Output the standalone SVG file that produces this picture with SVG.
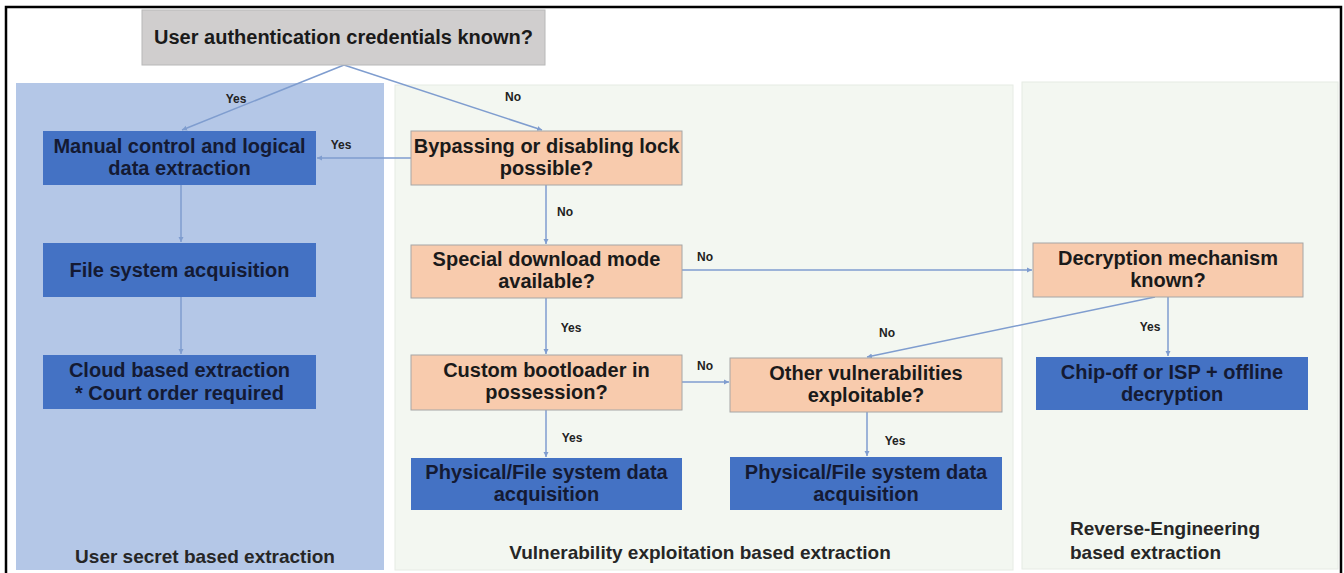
<svg xmlns="http://www.w3.org/2000/svg" width="1344" height="573" viewBox="0 0 1344 573">
  <defs>
    <marker id="arr" markerWidth="6" markerHeight="6" refX="5" refY="3" orient="auto" markerUnits="userSpaceOnUse">
      <path d="M0,0.5 L5,3 L0,5.5 Z" fill="#7f9dcf"/>
    </marker>
    <style>
      text { font-family: "Liberation Sans", Arial, sans-serif; font-weight: bold; }
      .q { fill: #f8cbad; stroke: #a6a6a6; stroke-width: 1; }
      .r { fill: #4472c4; }
      .g { fill: #d0cece; stroke: #b8b8b8; stroke-width: 1; }
      .bt { font-size: 20px; fill: #1a1a1a; text-anchor: middle; }
      .rt { font-size: 20px; fill: #141a33; text-anchor: middle; }
      .lab { font-size: 12px; fill: #222; text-anchor: middle; }
      .pl { font-size: 19px; fill: #262626; }
      .c { stroke: #7f9dcf; stroke-width: 1.5; fill: none; marker-end: url(#arr); }
      .pane { fill: #f3f7f1; stroke: #e6ebe4; stroke-width: 1; }
    </style>
  </defs>

  <rect x="0" y="0" width="1344" height="573" fill="#ffffff"/>
  <rect x="6" y="7" width="1335" height="590" fill="#ffffff" stroke="#000000" stroke-width="2.5"/>

  <g id="panels">
    <rect id="panel-user-secret" x="16" y="83" width="368" height="487" fill="#b4c7e7"/>
    <rect id="panel-vulnerability" class="pane" x="395" y="85" width="618" height="485"/>
    <rect id="panel-reverse" class="pane" x="1022" y="82" width="316" height="487"/>
    <text class="pl" x="205" y="563" text-anchor="middle">User secret based extraction</text>
    <text class="pl" x="700" y="559" text-anchor="middle">Vulnerability exploitation based extraction</text>
    <text class="pl" x="1070" y="535">Reverse-Engineering</text>
    <text class="pl" x="1070" y="559">based extraction</text>
  </g>

  <g id="connectors">
    <line class="c" x1="344" y1="65" x2="182" y2="130"/>
    <line class="c" x1="344" y1="65" x2="542" y2="130"/>
    <line class="c" x1="411" y1="158" x2="317" y2="158"/>
    <line class="c" x1="181" y1="185" x2="181" y2="242"/>
    <line class="c" x1="181" y1="297" x2="181" y2="354"/>
    <line class="c" x1="546" y1="185" x2="546" y2="244"/>
    <line class="c" x1="546" y1="298" x2="546" y2="354"/>
    <line class="c" x1="546" y1="410" x2="546" y2="457"/>
    <line class="c" x1="682" y1="270" x2="1032" y2="270"/>
    <line class="c" x1="682" y1="382" x2="729" y2="382"/>
    <line class="c" x1="1168" y1="297" x2="1168" y2="356"/>
    <line class="c" x1="1155" y1="297" x2="867" y2="357"/>
    <line class="c" x1="867" y1="412" x2="867" y2="456"/>
    <text class="lab" x="236" y="103">Yes</text>
    <text class="lab" x="513" y="101">No</text>
    <text class="lab" x="341" y="149">Yes</text>
    <text class="lab" x="565" y="216">No</text>
    <text class="lab" x="705" y="261">No</text>
    <text class="lab" x="571" y="332">Yes</text>
    <text class="lab" x="887" y="337">No</text>
    <text class="lab" x="1150" y="331">Yes</text>
    <text class="lab" x="705" y="370">No</text>
    <text class="lab" x="572" y="442">Yes</text>
    <text class="lab" x="895" y="445">Yes</text>
  </g>

  <g id="n-start">
    <rect class="g" x="142" y="10" width="403" height="55"/>
    <text class="bt" x="343.5" y="44">User authentication credentials known?</text>
  </g>

  <g id="n-manual">
    <rect class="r" x="43" y="131" width="273" height="54"/>
    <text class="rt" x="179.5" y="153">Manual control and logical</text>
    <text class="rt" x="179.5" y="175">data extraction</text>
  </g>
  <g id="n-filesystem">
    <rect class="r" x="43" y="243" width="273" height="54"/>
    <text class="rt" x="179.5" y="277">File system acquisition</text>
  </g>
  <g id="n-cloud">
    <rect class="r" x="43" y="355" width="273" height="54"/>
    <text class="rt" x="179.5" y="377">Cloud based extraction</text>
    <text class="rt" x="179.5" y="400">* Court order required</text>
  </g>

  <g id="n-bypass">
    <rect class="q" x="411" y="131" width="271" height="54"/>
    <text class="bt" x="546.5" y="153">Bypassing or disabling lock</text>
    <text class="bt" x="546.5" y="175">possible?</text>
  </g>
  <g id="n-special">
    <rect class="q" x="411" y="245" width="271" height="53"/>
    <text class="bt" x="546.5" y="266">Special download mode</text>
    <text class="bt" x="546.5" y="288">available?</text>
  </g>
  <g id="n-custom">
    <rect class="q" x="411" y="355" width="271" height="55"/>
    <text class="bt" x="546.5" y="377">Custom bootloader in</text>
    <text class="bt" x="546.5" y="399">possession?</text>
  </g>
  <g id="n-phys1">
    <rect class="r" x="411" y="458" width="271" height="52"/>
    <text class="rt" x="546.5" y="479">Physical/File system data</text>
    <text class="rt" x="546.5" y="501">acquisition</text>
  </g>
  <g id="n-other">
    <rect class="q" x="730" y="358" width="272" height="54"/>
    <text class="bt" x="866" y="380">Other vulnerabilities</text>
    <text class="bt" x="866" y="402">exploitable?</text>
  </g>
  <g id="n-phys2">
    <rect class="r" x="730" y="457" width="272" height="53"/>
    <text class="rt" x="866" y="479">Physical/File system data</text>
    <text class="rt" x="866" y="501">acquisition</text>
  </g>

  <g id="n-decrypt">
    <rect class="q" x="1033" y="243" width="270" height="54"/>
    <text class="bt" x="1168" y="265">Decryption mechanism</text>
    <text class="bt" x="1168" y="287">known?</text>
  </g>
  <g id="n-chipoff">
    <rect class="r" x="1036" y="357" width="272" height="53"/>
    <text class="rt" x="1172" y="379">Chip-off or ISP + offline</text>
    <text class="rt" x="1172" y="401">decryption</text>
  </g>
</svg>
